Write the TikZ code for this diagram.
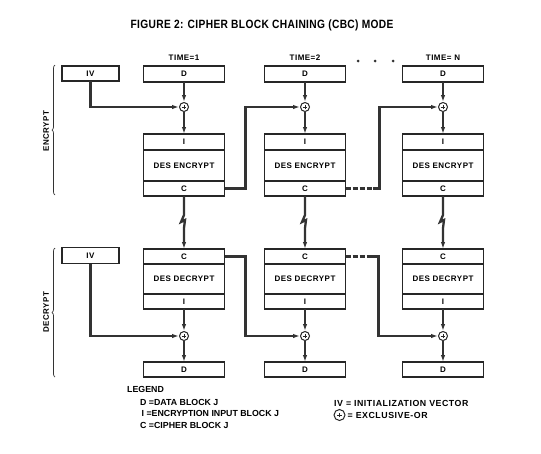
\documentclass[tikz,border=0pt]{standalone}
\usepackage{fontspec}
\setmainfont{Liberation Sans}
\newfontfamily\boxfont[LetterSpace=6]{Liberation Sans}
\newfontfamily\titlefont[FakeStretch=0.85, LetterSpace=3]{Liberation Sans}
\usetikzlibrary{arrows.meta, positioning, decorations.pathreplacing}
\tikzset{
  cell/.style={rectangle, draw=black!85, line width=1.4pt, fill=white,
               minimum width=81pt, inner sep=0pt, outer sep=0pt,
               font=\boxfont\bfseries\fontsize{8}{9}\selectfont},
  xor/.style={circle, draw=black!85, line width=1pt, minimum size=9pt,
              inner sep=0pt, fill=white,
              path picture={
                \draw[line width=0.9pt] ([xshift=-2.4pt]path picture bounding box.center)
                  -- ([xshift=2.4pt]path picture bounding box.center);
                \draw[line width=0.9pt] ([yshift=-2.4pt]path picture bounding box.center)
                  -- ([yshift=2.4pt]path picture bounding box.center);}},
  link/.style={line width=2.3pt, black!80},
  arr/.style={link, -{Latex[length=7pt,width=4.5pt]}},
  dashlink/.style={link, dash pattern=on 5pt off 2pt},
  tlabel/.style={font=\boxfont\bfseries\fontsize{8}{9}\selectfont},
  side/.style={rotate=90, font=\boxfont\bfseries\fontsize{8}{9}\selectfont},
  legend/.style={anchor=west, inner sep=0pt, font=\bfseries\fontsize{8.8}{10}\selectfont},
  sbrace/.style={decorate, decoration={brace, amplitude=3pt}, line width=0.7pt, black!80},
}
\begin{document}
\begin{tikzpicture}[x=1pt, y=-1pt]
  \useasboundingbox (0,0) rectangle (541,453);
  \node[font=\titlefont\bfseries\fontsize{12}{13}\selectfont] (title) at (262,25)
    {FIGURE 2: CIPHER BLOCK CHAINING (CBC) MODE};

  % encrypt row
  \node[cell, minimum width=57pt, minimum height=15pt] (ivE) at (90.5,73.5) {IV};
  \foreach \c/\x/\t in {1/184/TIME=1, 2/305/TIME=2, 3/443/TIME= N} {
    \node[tlabel] (tm\c) at (\x,58) {\t};
    \node[cell, minimum height=16pt] (dE\c) at (\x,74) {D};
    \node[xor] (xE\c) at (\x,107) {};
    \node[cell, minimum height=16pt] (iE\c) at (\x,142) {I};
    \node[cell, minimum height=31pt, below=0pt of iE\c] (desE\c) {DES ENCRYPT};
    \node[cell, minimum height=15pt, below=0pt of desE\c] (cE\c) {C};
  }
  \foreach \d/\x in {1/358, 2/375, 3/393}
    \fill[black!80] (\x,61) circle (1.5pt);

  % decrypt row
  \node[cell, minimum width=57pt, minimum height=16pt] (ivD) at (90.5,255.5) {IV};
  \foreach \c/\x in {1/184, 2/305, 3/443} {
    \node[cell, minimum height=15pt] (cD\c) at (\x,256.5) {C};
    \node[cell, minimum height=30pt, below=0pt of cD\c] (desD\c) {DES DECRYPT};
    \node[cell, minimum height=15pt, below=0pt of desD\c] (iD\c) {I};
    \node[xor] (xD\c) at (\x,336) {};
    \node[cell, minimum height=15pt] (dD\c) at (\x,369.5) {D};
  }

  \foreach \c in {1,2,3} {
    \draw[arr] (dE\c) -- (xE\c);
    \draw[arr] (xE\c) -- (iE\c);
    \draw[arr] (cE\c.south) -- ++(0,19) -- ++(-3,7) -- ++(4,-2) -- ++(-1,8) -- (cD\c.north);
    \draw[arr] (iD\c) -- (xD\c);
    \draw[arr] (xD\c) -- (dD\c);
  }

  % chaining
  \draw[arr] (ivE.south) |- (xE1.west);
  \draw[arr] (cE1.east) -- ++(21,0) |- (xE2.west);
  \draw[dashlink] (cE2.east) -- ++(27,0) coordinate (gapE);
  \draw[arr] (gapE) -- ++(7,0) |- (xE3.west);
  \draw[arr] (ivD.south) |- (xD1.west);
  \draw[arr] (cD1.east) -- ++(21,0) |- (xD2.west);
  \draw[dashlink] (cD2.east) -- ++(26,0) coordinate (gapD);
  \draw[arr] (gapD) -- ++(7,0) |- (xD3.west);

  % side labels
  \draw[sbrace] (55,195) -- (55,65);
  \node[side] (enc) at (46,131) {ENCRYPT};
  \draw[sbrace] (55,377) -- (55,248);
  \node[side] (dec) at (46,312) {DECRYPT};

  % legend
  \node[legend] (lg) at (127,389) {LEGEND};
  \node[legend] (lgD) at (140,402) {D =DATA BLOCK J};
  \node[legend] (lgI) at (141.5,413) {I =ENCRYPTION INPUT BLOCK J};
  \node[legend] (lgC) at (140,425) {C =CIPHER BLOCK J};
  \node[legend, font=\boxfont\bfseries\fontsize{8.8}{10}\selectfont] (lgIV) at (334,403)
    {IV = INITIALIZATION VECTOR};
  \node[xor, minimum size=11pt] (xleg) at (339.5,415) {};
  \node[legend, font=\boxfont\bfseries\fontsize{8.8}{10}\selectfont, right=2pt of xleg] (lgX)
    {= EXCLUSIVE-OR};
\end{tikzpicture}
\end{document}
